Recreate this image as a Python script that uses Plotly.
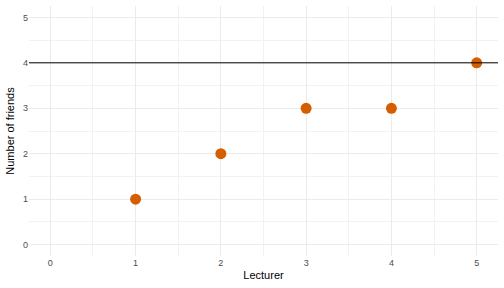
import plotly.graph_objects as go

lecturer = [1, 2, 3, 4, 5]
friends = [1, 2, 3, 3, 4]
ref_line = 4
ticks = [0, 1, 2, 3, 4, 5]

fig = go.Figure()
fig.add_trace(go.Scatter(x=lecturer, y=friends, mode="markers",
                         marker=dict(color="#D55E00", size=11, line=dict(width=0)),
                         showlegend=False))
fig.add_hline(y=ref_line, line=dict(color="black", width=1))

axis_common = dict(
    tickvals=ticks, ticktext=[str(t) for t in ticks],
    showgrid=True, gridcolor="#EBEBEB", gridwidth=1.1,
    zeroline=False, showline=False, ticks="",
    tickfont=dict(family="Liberation Sans, Arial", size=9, color="#4D4D4D"),
    minor=dict(dtick=0.5, showgrid=True, gridcolor="#F2F2F2", gridwidth=0.6),
    title_font=dict(family="Liberation Sans, Arial", size=11, color="black"),
)

fig.update_layout(
    width=504, height=288,
    margin=dict(l=29, r=6, t=6, b=32),
    paper_bgcolor="white", plot_bgcolor="white",
    xaxis=dict(range=[-0.25, 5.25], title=dict(text="Lecturer", standoff=4), **axis_common),
    yaxis=dict(range=[-0.25, 5.25], title=dict(text="Number of friends", standoff=6), **axis_common),
)
fig.write_html("out.html")
